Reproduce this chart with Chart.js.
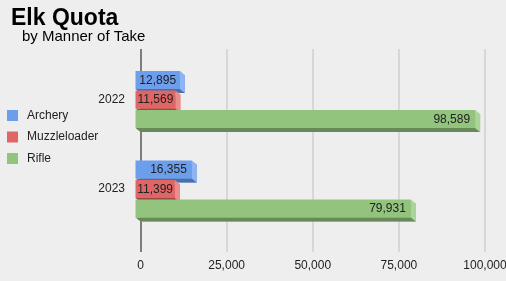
<!DOCTYPE html>
<html>
<head>
<meta charset="utf-8">
<script src="https://cdn.jsdelivr.net/npm/chart.js@4.4.1/dist/chart.umd.min.js"></script>
<style>
  html, body { margin: 0; padding: 0; background: #eeeeee; }
  #wrap { width: 506px; height: 281px; }
</style>
</head>
<body>
<div id="wrap"><canvas id="chart" width="506" height="281"></canvas></div>
<script>
// ==== data ====
const categories = ["2022", "2023"];
const seriesNames = ["Archery", "Muzzleloader", "Rifle"];
const archery = [12895, 16355];
const muzzleloader = [11569, 11399];
const rifle = [98589, 79931];
const xTicks = [0, 25000, 50000, 75000, 100000];

// ==== styles ====
const FONT = "'Liberation Sans', Arial, sans-serif";
const frontColors = ["#6d9eeb", "#e06666", "#93c47d"];
const sideColors = ["#8fb4f2", "#ea8c8c", "#aad49a"];
const bottomColors = ["#4c6fa5", "#9d4747", "#678957"];
const DX = 5, DY = 4; // 3d depth

const fmt = v => v.toLocaleString("en-US");

// title + subtitle
const titlePlugin = {
  id: "titles",
  afterDraw(chart) {
    const ctx = chart.ctx;
    ctx.save();
    ctx.fillStyle = "#000";
    ctx.textBaseline = "alphabetic";
    ctx.textAlign = "left";
    ctx.font = "bold 23px " + FONT;
    ctx.fillText("Elk Quota", 11, 25);
    ctx.font = "15px " + FONT;
    ctx.fillText("by Manner of Take", 22, 41);
    ctx.restore();
  }
};

// legend on the left
const legendPlugin = {
  id: "sideLegend",
  afterDraw(chart) {
    const ctx = chart.ctx;
    ctx.save();
    ctx.font = "12px " + FONT;
    ctx.textBaseline = "middle";
    ctx.textAlign = "left";
    chart.data.datasets.forEach((ds, i) => {
      const cy = 115.5 + i * 21.5;
      ctx.fillStyle = frontColors[i];
      ctx.fillRect(7, cy - 5.5, 11, 11);
      ctx.fillStyle = "#222";
      ctx.fillText(ds.label, 27, cy);
    });
    ctx.restore();
  }
};

// vertical grid lines, taller than the plot area
const gridPlugin = {
  id: "tallGrid",
  beforeDatasetsDraw(chart) {
    const ctx = chart.ctx;
    const xs = chart.scales.x;
    ctx.save();
    xTicks.forEach(t => {
      const px = Math.round(xs.getPixelForValue(t));
      ctx.beginPath();
      ctx.strokeStyle = t === 0 ? "#333" : "#cfcfcf";
      ctx.lineWidth = t === 0 ? 1.2 : 1.5;
      ctx.moveTo(px, 49);
      ctx.lineTo(px, 252);
      ctx.stroke();
    });
    ctx.restore();
  }
};

// 3d faces + value labels
const bar3dPlugin = {
  id: "bar3d",
  afterDatasetsDraw(chart) {
    const ctx = chart.ctx;
    ctx.save();
    chart.data.datasets.forEach((ds, di) => {
      const meta = chart.getDatasetMeta(di);
      meta.data.forEach((el, i) => {
        const p = el.getProps(["x", "y", "base", "height"], true);
        const bx0 = p.base, bx1 = p.x;
        const by0 = p.y - p.height / 2, by1 = p.y + p.height / 2;
        const fx0 = bx0 - DX, fx1 = bx1 - DX, fy0 = by0 - DY, fy1 = by1 - DY;

        // bottom face
        ctx.fillStyle = bottomColors[di];
        ctx.beginPath();
        ctx.moveTo(fx0, fy1); ctx.lineTo(fx1, fy1);
        ctx.lineTo(bx1, by1); ctx.lineTo(bx0, by1);
        ctx.closePath(); ctx.fill();
        // right face
        ctx.fillStyle = sideColors[di];
        ctx.beginPath();
        ctx.moveTo(fx1, fy0); ctx.lineTo(bx1, by0);
        ctx.lineTo(bx1, by1); ctx.lineTo(fx1, fy1);
        ctx.closePath(); ctx.fill();
        // front face
        ctx.fillStyle = frontColors[di];
        ctx.fillRect(fx0, fy0, fx1 - fx0, fy1 - fy0);

        // value label
        const txt = fmt(ds.data[i]);
        ctx.font = "12px " + FONT;
        ctx.fillStyle = "#222";
        ctx.textBaseline = "middle";
        const w = ctx.measureText(txt).width;
        const fw = fx1 - fx0;
        let tx;
        if (w + 10 > fw) {
          ctx.textAlign = "center";
          tx = (fx0 + fx1) / 2;
        } else {
          ctx.textAlign = "right";
          tx = fx1 - 5;
        }
        ctx.fillText(txt, tx, (fy0 + fy1) / 2 + 0.5);
      });
    });
    ctx.restore();
  }
};

const seriesData = [archery, muzzleloader, rifle];

new Chart(document.getElementById("chart"), {
  type: "bar",
  data: {
    labels: categories,
    datasets: seriesNames.map((name, i) => ({
      label: name,
      data: seriesData[i],
      backgroundColor: frontColors[i],
      borderWidth: 0,
      categoryPercentage: 0.654,
      barPercentage: 0.923
    }))
  },
  options: {
    indexAxis: "y",
    responsive: false,
    animation: false,
    devicePixelRatio: 1,
    layout: { padding: { top: 58.75, right: 21, bottom: 0, left: 0 } },
    plugins: {
      legend: { display: false },
      tooltip: { enabled: false }
    },
    scales: {
      x: {
        min: 0,
        max: 100000,
        afterBuildTicks: scale => { scale.ticks = xTicks.map(v => ({ value: v })); },
        afterFit: scale => {
          scale.height = 43.25;
          scale.paddingLeft = 0;
          scale.paddingRight = 0;
        },
        grid: { display: false, drawTicks: false },
        border: { display: false },
        ticks: {
          padding: 21,
          color: "#222",
          font: { family: FONT, size: 12 },
          maxRotation: 0,
          callback: v => fmt(v)
        }
      },
      y: {
        afterFit: scale => { scale.width = 140.5; },
        grid: { display: false, drawTicks: false },
        border: { display: false },
        ticks: {
          padding: 15.5,
          labelOffset: -4,
          color: "#222",
          font: { family: FONT, size: 12 }
        }
      }
    }
  },
  plugins: [gridPlugin, bar3dPlugin, legendPlugin, titlePlugin]
});
</script>
</body>
</html>
